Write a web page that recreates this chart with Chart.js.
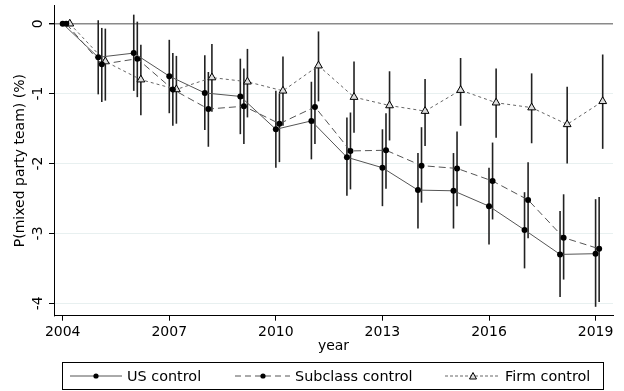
<!DOCTYPE html>
<html>
<head>
<meta charset="utf-8">
<script src="https://cdn.jsdelivr.net/npm/chart.js@4"></script>
<style>
  body { margin: 0; background: #fff; }
  #wrap { position: relative; width: 624px; height: 391px; font-family: "DejaVu Sans", sans-serif; }
  #legend {
    position: absolute; left: 62px; top: 362px; width: 540px; height: 26px;
    border: 1px solid #000; font-size: 14.4px; color: #000;
  }
  .item { position: absolute; top: 0; height: 26px; display: flex; align-items: center; white-space: nowrap; }
  .item svg { margin-right: 5px; }
</style>
</head>
<body>
<div id="wrap">
  <canvas id="chart" width="624" height="391"></canvas>
  <div id="legend">
    <div class="item" style="left:7px">
      <svg width="52" height="10"><line x1="0" y1="5" x2="52" y2="5" stroke="#555" stroke-width="1"/><circle cx="26" cy="5" r="2.6" fill="#000"/></svg>US control
    </div>
    <div class="item" style="left:172px">
      <svg width="55" height="10"><line x1="0" y1="5" x2="55" y2="5" stroke="#555" stroke-width="1" stroke-dasharray="6,4"/><circle cx="28" cy="5" r="2.6" fill="#000"/></svg>Subclass control
    </div>
    <div class="item" style="left:382px">
      <svg width="55" height="10"><line x1="0" y1="5" x2="55" y2="5" stroke="#666" stroke-width="1" stroke-dasharray="3,2"/><polygon points="28,1.5 31.5,8 24.5,8" fill="#ddd" stroke="#000" stroke-width="1"/></svg>Firm control
    </div>
  </div>
</div>
<script>
// --- Данные ---
const years = [2004, 2005, 2006, 2007, 2008, 2009, 2010, 2011, 2012, 2013, 2014, 2015, 2016, 2017, 2018, 2019];

const usControl = [0, -0.48, -0.42, -0.75, -0.99, -1.04, -1.51, -1.39, -1.91, -2.06, -2.38, -2.39, -2.61, -2.95, -3.30, -3.29];
const usLow     = [0, -1.01, -0.96, -1.28, -1.52, -1.58, -2.06, -1.94, -2.46, -2.61, -2.93, -2.93, -3.16, -3.50, -3.91, -4.05];
const usHigh    = [0,  0.05,  0.13, -0.23, -0.45, -0.50, -0.96, -0.83, -1.34, -1.51, -1.85, -1.85, -2.06, -2.41, -2.68, -2.51];

const subclassControl = [0, -0.58, -0.50, -0.94, -1.22, -1.18, -1.43, -1.19, -1.82, -1.81, -2.03, -2.07, -2.25, -2.52, -3.06, -3.22];
const subclassLow     = [0, -1.12, -1.05, -1.46, -1.76, -1.72, -1.98, -1.72, -2.37, -2.36, -2.56, -2.61, -2.80, -3.07, -3.66, -3.98];
const subclassHigh    = [0, -0.06,  0.03, -0.42, -0.69, -0.64, -1.00, -0.64, -1.27, -1.28, -1.48, -1.54, -1.70, -1.98, -2.44, -2.48];

const firmControl = [0, -0.54, -0.80, -0.94, -0.77, -0.83, -0.96, -0.60, -1.05, -1.17, -1.25, -0.95, -1.13, -1.20, -1.44, -1.11];
const firmLow     = [0, -1.10, -1.31, -1.43, -1.26, -1.34, -1.46, -1.11, -1.56, -1.67, -1.75, -1.46, -1.63, -1.71, -2.00, -1.79];
const firmHigh    = [0, -0.07, -0.30, -0.46, -0.29, -0.36, -0.47, -0.11, -0.54, -0.68, -0.79, -0.49, -0.64, -0.71, -0.90, -0.44];

const xTicks = [2004, 2007, 2010, 2013, 2016, 2019];
const yTicks = [0, -1, -2, -3, -4];

// небольшой сдвиг серий по оси X, чтобы интервалы не накладывались
const xShift = { us: 0, subclass: 0.1, firm: 0.2 };

const FONT = '"DejaVu Sans", sans-serif';
const FONT_SIZE = 14;

// Собираем точки {x, y, low, high}
function buildPoints(vals, low, high, shift) {
    return years.map((yr, i) => ({ x: yr + shift, y: vals[i], low: low[i], high: high[i] }));
}

// --- Плагин: вертикальные доверительные интервалы ---
const errorBarsPlugin = {
    id: 'errorBars',
    beforeDatasetsDraw(chart) {
        const { ctx, scales: { x, y } } = chart;
        ctx.save();
        ctx.strokeStyle = '#222';
        ctx.lineWidth = 1.6;
        chart.data.datasets.forEach(ds => {
            ds.data.forEach(pt => {
                if (pt.low === pt.high) return;
                const px = x.getPixelForValue(pt.x);
                ctx.beginPath();
                ctx.moveTo(px, y.getPixelForValue(pt.low));
                ctx.lineTo(px, y.getPixelForValue(pt.high));
                ctx.stroke();
            });
        });
        ctx.restore();
    }
};

// --- Плагин: повернутые подписи оси Y (как в Stata) ---
const yLabelsPlugin = {
    id: 'yLabels',
    afterDraw(chart) {
        const { ctx, scales: { y } } = chart;
        ctx.save();
        ctx.font = FONT_SIZE + 'px ' + FONT;
        ctx.fillStyle = '#000';
        ctx.textAlign = 'center';
        ctx.textBaseline = 'middle';
        yTicks.forEach(v => {
            const py = y.getPixelForValue(v);
            ctx.save();
            ctx.translate(38, py);
            ctx.rotate(-Math.PI / 2);
            ctx.fillText(String(v), 0, 0);
            ctx.restore();
        });
        ctx.restore();
    }
};

new Chart(document.getElementById('chart'), {
    type: 'scatter',
    data: {
        datasets: [
            {
                label: 'US control',
                data: buildPoints(usControl, usLow, usHigh, xShift.us),
                showLine: true,
                borderColor: '#555',
                borderWidth: 1,
                pointRadius: 3,
                pointBackgroundColor: '#000',
                pointBorderColor: '#000',
                pointBorderWidth: 0
            },
            {
                label: 'Subclass control',
                data: buildPoints(subclassControl, subclassLow, subclassHigh, xShift.subclass),
                showLine: true,
                borderColor: '#555',
                borderWidth: 1,
                borderDash: [7, 4],
                pointRadius: 3,
                pointBackgroundColor: '#000',
                pointBorderColor: '#000',
                pointBorderWidth: 0
            },
            {
                label: 'Firm control',
                data: buildPoints(firmControl, firmLow, firmHigh, xShift.firm),
                showLine: true,
                borderColor: '#666',
                borderWidth: 1,
                borderDash: [3, 3],
                pointStyle: 'triangle',
                pointRadius: 4.5,
                pointBackgroundColor: '#ddd',
                pointBorderColor: '#000',
                pointBorderWidth: 1
            }
        ]
    },
    options: {
        responsive: false,
        animation: false,
        layout: { padding: { top: 5, right: 11, bottom: 35.9, left: 0 } },
        plugins: {
            legend: { display: false },
            tooltip: { enabled: false }
        },
        scales: {
            x: {
                type: 'linear',
                min: 2003.755,
                max: 2019.49,
                afterBuildTicks: s => { s.ticks = xTicks.map(v => ({ value: v })); },
                afterFit: s => { s.height = 39.4; },
                grid: { drawOnChartArea: false, drawTicks: true, tickLength: 5, tickColor: '#000' },
                border: { display: true, color: '#000', width: 1 },
                ticks: { color: '#000', font: { family: FONT, size: FONT_SIZE }, padding: 3, maxRotation: 0, callback: v => String(v) },
                title: { display: true, text: 'year', color: '#000', font: { family: FONT, size: FONT_SIZE }, padding: 0 }
            },
            y: {
                min: -4.177,
                max: 0.261,
                afterBuildTicks: s => { s.ticks = yTicks.map(v => ({ value: v })); },
                afterFit: s => { s.width = 54; },
                grid: {
                    color: c => (c.tick && c.tick.value === 0) ? '#8a8a8a' : '#e8f0f0',
                    lineWidth: c => (c.tick && c.tick.value === 0) ? 1.4 : 1,
                    drawTicks: true,
                    tickLength: 5,
                    tickColor: '#000'
                },
                border: { display: true, color: '#000', width: 1 },
                ticks: { display: false },
                title: { display: true, text: 'P(mixed party team) (%)', color: '#000', font: { family: FONT, size: FONT_SIZE }, padding: { top: 11.6, bottom: 0 } }
            }
        }
    },
    plugins: [errorBarsPlugin, yLabelsPlugin]
});
</script>
</body>
</html>
